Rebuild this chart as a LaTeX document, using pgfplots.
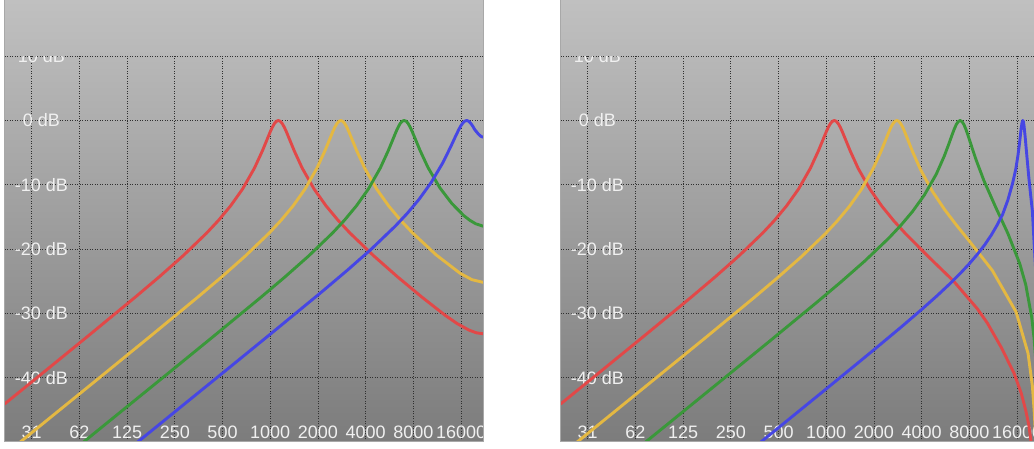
\documentclass[border=0pt]{standalone}
\usepackage{pgfplots}
\pgfplotsset{compat=1.18}
\usepackage{fontspec}
\setmainfont{Liberation Sans}
\definecolor{cred}{RGB}{226,72,72}
\definecolor{cyel}{RGB}{228,184,66}
\definecolor{cgrn}{RGB}{58,152,58}
\definecolor{cblu}{RGB}{70,70,228}
\definecolor{gridc}{RGB}{48,48,48}
\definecolor{labc}{RGB}{240,240,240}
\definecolor{bgtop}{RGB}{192,192,192}
\definecolor{bgbot}{RGB}{124,124,124}
\definecolor{hdbot}{RGB}{184,184,184}
\definecolor{bordc}{RGB}{168,168,168}
\begin{document}
\begin{tikzpicture}[x=1pt,y=1pt]
\useasboundingbox (0,0) rectangle (1034,449);
\shade[top color=bgtop, bottom color=bgbot] (4.5,7) rectangle (483,449);
\shade[top color=bgtop, bottom color=bgbot] (560.5,7) rectangle (1040,449);
% left panel
\begin{scope}
\clip (4.5,7) rectangle (483,449);
\begin{axis}[at={(4.5pt,7pt)}, anchor=south west,
    scale only axis, width=478.6pt, height=385.8pt,
    xmode=log, xmin=21.05, xmax=22050, ymin=-50, ymax=10,
    axis line style={draw=none},
    major tick length=0pt,
    xtick={31.25,62.5,125,250,500,1000,2000,4000,8000,16000},
    xticklabels={31,62,125,250,500,1000,2000,4000,8000,16000},
    ytick={-40,-30,-20,-10,0,10},
    yticklabels={-40 dB,-30 dB,-20 dB,-10 dB,0 dB,10 dB},
    grid=major,
    grid style={draw=gridc, line width=0.8pt, dash pattern=on 1.2pt off 1.3pt},
    tick label style={font=\fontsize{18}{19}\selectfont, text=labc},
    xticklabel style={anchor=center, yshift=10pt},
    yticklabel style={anchor=center, xshift=37pt},
    every axis plot/.append style={line width=2.9pt, line join=round}]
\addplot[cred, no markers] coordinates {(21.05,-44.10) (35.16,-39.64) (70.31,-33.59) (140.6,-27.48) (198.9,-24.34) (281.25,-21.06) (397.7,-17.49) (473.0,-15.50) (562.5,-13.27) (669.0,-10.66) (795.5,-7.40) (892.9,-4.71) (946.0,-3.21) (1002.3,-1.71) (1031.6,-1.04) (1061.9,-0.49) (1093.0,-0.13) (1125,0) (1158.0,-0.13) (1191.9,-0.49) (1226.8,-1.04) (1262.8,-1.71) (1337.9,-3.21) (1417.4,-4.71) (1591.0,-7.40) (1892.0,-10.66) (2250,-13.27) (2675.7,-15.50) (3182,-17.49) (4500,-21.05) (6364,-24.32) (9000,-27.41) (12728,-30.31) (15136,-31.59) (18000,-32.61) (19992,-33.02) (22050,-33.17)};
\addplot[cyel, no markers] coordinates {(21.80,-51.69) (43.59,-45.66) (87.19,-39.64) (174.4,-33.59) (348.75,-27.48) (493.2,-24.34) (697.5,-21.06) (986.4,-17.49) (1173.1,-15.50) (1395,-13.27) (1659,-10.66) (1972.8,-7.40) (2214.4,-4.71) (2346.1,-3.21) (2485.6,-1.71) (2558.4,-1.04) (2633.4,-0.49) (2710.6,-0.13) (2790,0) (2871.7,-0.13) (2955.9,-0.49) (3042.5,-1.04) (3131.6,-1.71) (3317.9,-3.21) (3515.2,-4.71) (3945.7,-7.40) (4692.2,-10.65) (5580,-13.26) (6635.6,-15.49) (7891,-17.45) (11160,-20.91) (15783,-23.76) (18769,-24.76) (22050,-25.17)};
\addplot[cgrn, no markers] coordinates {(54.69,-51.69) (109.4,-45.66) (218.75,-39.64) (437.5,-33.59) (875,-27.48) (1237.4,-24.34) (1750,-21.06) (2474.9,-17.49) (2943.2,-15.50) (3500,-13.27) (4162.4,-10.66) (4949.7,-7.39) (5555.8,-4.70) (5886.3,-3.20) (6236.2,-1.70) (6419,-1.03) (6607.1,-0.47) (6800.7,-0.12) (7000,0) (7205,-0.11) (7416.2,-0.46) (7633.6,-1.01) (7857.2,-1.68) (8324.4,-3.16) (8819.4,-4.65) (9899.5,-7.31) (11772.6,-10.48) (14000,-12.91) (16649,-14.79) (18155,-15.51) (19799,-16.06) (22050,-16.44)};
\addplot[cblu, no markers] coordinates {(135.9,-50.61) (192.2,-47.60) (271.9,-44.58) (543.75,-38.56) (1087.5,-32.51) (2175,-26.40) (3075.9,-23.26) (4350,-19.99) (6151.8,-16.43) (7316,-14.46) (8700,-12.25) (10346,-9.68) (12304,-6.54) (13811,-4.02) (14632,-2.68) (15502,-1.39) (15956,-0.83) (16424,-0.39) (16905,-0.10) (17400,0) (17910,-0.12) (18435,-0.45) (19000,-0.90) (19500,-1.40) (20500,-2.05) (21300,-2.45) (22050,-2.60)};
\end{axis}
\end{scope}
% right panel
\begin{scope}
\clip (560.5,7) rectangle (1040,449);
\begin{axis}[at={(560.5pt,7pt)}, anchor=south west,
    scale only axis, width=478.6pt, height=385.8pt,
    xmode=log, xmin=21.05, xmax=22050, ymin=-50, ymax=10,
    axis line style={draw=none},
    major tick length=0pt,
    xtick={31.25,62.5,125,250,500,1000,2000,4000,8000,16000},
    xticklabels={31,62,125,250,500,1000,2000,4000,8000,16000},
    ytick={-40,-30,-20,-10,0,10},
    yticklabels={-40 dB,-30 dB,-20 dB,-10 dB,0 dB,10 dB},
    grid=major,
    grid style={draw=gridc, line width=0.8pt, dash pattern=on 1.2pt off 1.3pt},
    tick label style={font=\fontsize{18}{19}\selectfont, text=labc},
    xticklabel style={anchor=center, yshift=10pt},
    yticklabel style={anchor=center, xshift=37pt},
    every axis plot/.append style={line width=2.9pt, line join=round}]
\addplot[cred, no markers] coordinates {(21.05,-44.10) (35.16,-39.64) (70.31,-33.59) (140.6,-27.48) (198.9,-24.34) (281.25,-21.06) (397.7,-17.49) (473.0,-15.50) (562.5,-13.27) (669.0,-10.66) (795.5,-7.40) (892.9,-4.71) (946.0,-3.21) (1002.3,-1.71) (1031.6,-1.04) (1061.9,-0.49) (1093.0,-0.13) (1125,0) (1158.0,-0.13) (1191.9,-0.50) (1226.8,-1.05) (1262.8,-1.73) (1337.9,-3.23) (1417.4,-4.74) (1591,-7.45) (1892,-10.72) (2250,-13.36) (2675.7,-15.63) (3182,-17.66) (4500,-21.38) (6364,-24.98) (9000,-29.30) (10394,-31.50) (12728,-35.30) (15316,-39.30) (17000,-42.40) (18166,-45.10) (19000,-47.40) (19699,-50.30) (20300,-53.50)};
\addplot[cyel, no markers] coordinates {(21.8,-51.80) (43.59,-45.78) (87.19,-39.75) (174.4,-33.71) (348.75,-27.59) (493.2,-24.45) (697.5,-21.18) (986.4,-17.62) (1173.1,-15.63) (1395,-13.41) (1659,-10.80) (1972.8,-7.55) (2214.4,-4.83) (2346.1,-3.31) (2485.6,-1.78) (2558.4,-1.08) (2633.4,-0.52) (2710.6,-0.13) (2790,0) (2871.7,-0.13) (2955.9,-0.52) (3042.5,-1.07) (3131.6,-1.80) (3317.9,-3.35) (3515.2,-4.91) (3945.7,-7.69) (4692.2,-11.07) (5580,-13.84) (6635.6,-16.28) (7891,-18.57) (11160,-23.30) (15783,-29.78) (18769,-36.20) (20000,-41.30) (20500,-45.00) (21000,-49.50) (21500,-55.00)};
\addplot[cgrn, no markers] coordinates {(54.69,-52.45) (109.4,-46.43) (218.75,-40.40) (437.5,-34.36) (875,-28.25) (1237.4,-25.12) (1750,-21.86) (2474.9,-18.33) (2943.2,-16.36) (3500,-14.17) (4162.4,-11.59) (4949.7,-8.34) (5555.8,-5.55) (5886.3,-3.91) (6236.2,-2.19) (6419,-1.37) (6607.1,-0.66) (6800.7,-0.18) (7000,0) (7205,-0.18) (7416.2,-0.69) (7633.6,-1.45) (7857.2,-2.34) (8324.4,-4.25) (8819.4,-6.10) (9899.5,-9.38) (11772.6,-13.57) (14000,-17.55) (16649,-22.27) (18155,-25.53) (19799,-30.58) (20500,-33.90) (21000,-37.31) (21500,-42.95) (21800,-49.81) (21900,-54.25)};
\addplot[cblu, no markers] coordinates {(300,-52.22) (400,-49.71) (600,-46.19) (1000,-41.74) (1500,-38.19) (2000,-35.66) (3000,-32.04) (4000,-29.39) (5000,-27.27) (6000,-25.44) (7000,-23.80) (8000,-22.27) (9000,-20.80) (10000,-19.34) (11000,-17.83) (12000,-16.23) (13000,-14.55) (14000,-12.38) (15000,-9.77) (15700,-7.60) (16200,-5.50) (16600,-3.50) (17000,-1.20) (17200,-0.35) (17400,0) (17550,-0.19) (17700,-0.74) (18000,-2.52) (18500,-5.80) (19000,-8.90) (19500,-11.60) (20000,-14.10) (20500,-19.00) (21000,-23.50) (21500,-29.00) (21800,-35.24)};
\end{axis}
\end{scope}
% header bands
\shade[top color=bgtop, bottom color=hdbot] (4.5,393.6) rectangle (483,449);
\shade[top color=bgtop, bottom color=hdbot] (560.5,393.6) rectangle (1040,449);
% borders
\draw[bordc, line width=1pt] (4.5,7) rectangle (483,449);
\draw[bordc, line width=1pt] (560.5,7) rectangle (1040,449);
\end{tikzpicture}
\end{document}
